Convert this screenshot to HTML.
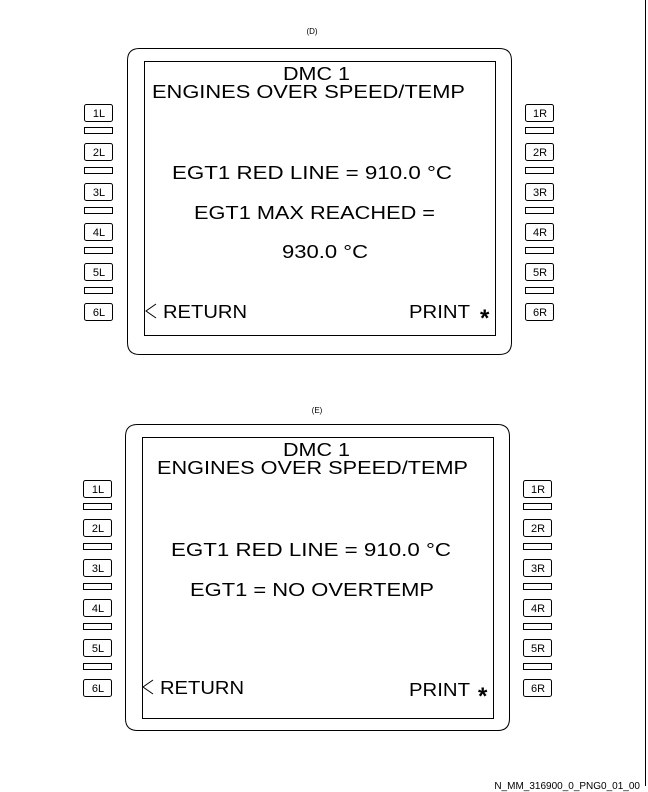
<!DOCTYPE html>
<html><head><style>body{margin:0;background:#fff}svg{display:block}</style></head><body>
<svg width="648" height="792" viewBox="0 0 648 792" xmlns="http://www.w3.org/2000/svg" font-family="Liberation Sans, sans-serif" fill="none" stroke="#000">
<line x1="645.5" y1="0" x2="645.5" y2="786" stroke-width="1"/>
<g>
<path d="M139.5,48.5 H499.5 Q511.5,48.5 511.5,60.5 V342.5 Q511.5,354.5 499.5,354.5 H139.5 Q127.5,354.5 127.5,342.5 V60.5 Q127.5,48.5 139.5,48.5 Z"/>
<rect x="144.5" y="61.5" width="351" height="274"/>
<g fill="#000" stroke="none" font-size="18">
<text x="312" y="34" font-size="8" text-anchor="middle">(D)</text>
<text x="283" y="80" textLength="67" lengthAdjust="spacingAndGlyphs">DMC 1</text>
<text x="152" y="98" textLength="313" lengthAdjust="spacingAndGlyphs">ENGINES OVER SPEED/TEMP</text>
<text x="172" y="179" textLength="280" lengthAdjust="spacingAndGlyphs">EGT1 RED LINE = 910.0 °C</text>
<text x="194" y="219" textLength="241" lengthAdjust="spacingAndGlyphs">EGT1 MAX REACHED =</text>
<text x="282" y="258" textLength="86" lengthAdjust="spacingAndGlyphs">930.0 °C</text>
<text x="163" y="318" textLength="84" lengthAdjust="spacingAndGlyphs">RETURN</text>
<text x="409" y="318" textLength="61" lengthAdjust="spacingAndGlyphs">PRINT</text>
<text x="480" y="326" font-size="24" font-weight="bold">*</text>
</g>
<polyline points="156,304 146,311 156,318" stroke-width="1"/>
</g>
<g>
<path d="M137.5,424.5 H497.5 Q509.5,424.5 509.5,436.5 V718.5 Q509.5,730.5 497.5,730.5 H137.5 Q125.5,730.5 125.5,718.5 V436.5 Q125.5,424.5 137.5,424.5 Z"/>
<rect x="142.5" y="437.5" width="351" height="281"/>
<g fill="#000" stroke="none" font-size="18">
<text x="317" y="413" font-size="8" text-anchor="middle">(E)</text>
<text x="283" y="456" textLength="67" lengthAdjust="spacingAndGlyphs">DMC 1</text>
<text x="157" y="474" textLength="311" lengthAdjust="spacingAndGlyphs">ENGINES OVER SPEED/TEMP</text>
<text x="171" y="556" textLength="280" lengthAdjust="spacingAndGlyphs">EGT1 RED LINE = 910.0 °C</text>
<text x="190" y="596" textLength="244" lengthAdjust="spacingAndGlyphs">EGT1 = NO OVERTEMP</text>
<text x="160" y="694" textLength="84" lengthAdjust="spacingAndGlyphs">RETURN</text>
<text x="409" y="696" textLength="61" lengthAdjust="spacingAndGlyphs">PRINT</text>
<text x="478" y="704" font-size="24" font-weight="bold">*</text>
</g>
<polyline points="153,680 143,687 153,694" stroke-width="1"/>
</g>
<g font-size="11">
<g stroke="#000">
<rect x="84.5" y="104.5" width="28" height="17" rx="2"/><rect x="84.5" y="143.5" width="28" height="17" rx="2"/><rect x="84.5" y="183.5" width="28" height="17" rx="2"/><rect x="84.5" y="223.5" width="28" height="17" rx="2"/><rect x="84.5" y="263.5" width="28" height="17" rx="2"/><rect x="84.5" y="303.5" width="28" height="17" rx="2"/>
<rect x="84.5" y="127.5" width="28" height="6"/><rect x="84.5" y="167.5" width="28" height="6"/><rect x="84.5" y="207.5" width="28" height="6"/><rect x="84.5" y="247.5" width="28" height="6"/><rect x="84.5" y="287.5" width="28" height="6"/>
<rect x="525.5" y="104.5" width="28" height="17" rx="2"/><rect x="525.5" y="143.5" width="28" height="17" rx="2"/><rect x="525.5" y="183.5" width="28" height="17" rx="2"/><rect x="525.5" y="223.5" width="28" height="17" rx="2"/><rect x="525.5" y="263.5" width="28" height="17" rx="2"/><rect x="525.5" y="303.5" width="28" height="17" rx="2"/>
<rect x="525.5" y="127.5" width="28" height="6"/><rect x="525.5" y="167.5" width="28" height="6"/><rect x="525.5" y="207.5" width="28" height="6"/><rect x="525.5" y="247.5" width="28" height="6"/><rect x="525.5" y="287.5" width="28" height="6"/>
<rect x="83.5" y="480.5" width="28" height="17" rx="2"/><rect x="83.5" y="519.5" width="28" height="17" rx="2"/><rect x="83.5" y="559.5" width="28" height="17" rx="2"/><rect x="83.5" y="599.5" width="28" height="17" rx="2"/><rect x="83.5" y="639.5" width="28" height="17" rx="2"/><rect x="83.5" y="679.5" width="28" height="17" rx="2"/>
<rect x="83.5" y="503.5" width="28" height="6"/><rect x="83.5" y="543.5" width="28" height="6"/><rect x="83.5" y="583.5" width="28" height="6"/><rect x="83.5" y="623.5" width="28" height="6"/><rect x="83.5" y="663.5" width="28" height="6"/>
<rect x="523.5" y="480.5" width="28" height="17" rx="2"/><rect x="523.5" y="519.5" width="28" height="17" rx="2"/><rect x="523.5" y="559.5" width="28" height="17" rx="2"/><rect x="523.5" y="599.5" width="28" height="17" rx="2"/><rect x="523.5" y="639.5" width="28" height="17" rx="2"/><rect x="523.5" y="679.5" width="28" height="17" rx="2"/>
<rect x="523.5" y="503.5" width="28" height="6"/><rect x="523.5" y="543.5" width="28" height="6"/><rect x="523.5" y="583.5" width="28" height="6"/><rect x="523.5" y="623.5" width="28" height="6"/><rect x="523.5" y="663.5" width="28" height="6"/>
</g>
<g fill="#000" stroke="none" text-anchor="middle">
<text x="99" y="117">1L</text><text x="99" y="156">2L</text><text x="99" y="196">3L</text><text x="99" y="236">4L</text><text x="99" y="276">5L</text><text x="99" y="316">6L</text>
<text x="540" y="117">1R</text><text x="540" y="156">2R</text><text x="540" y="196">3R</text><text x="540" y="236">4R</text><text x="540" y="276">5R</text><text x="540" y="316">6R</text>
<text x="98" y="493">1L</text><text x="98" y="532">2L</text><text x="98" y="572">3L</text><text x="98" y="612">4L</text><text x="98" y="652">5L</text><text x="98" y="692">6L</text>
<text x="538" y="493">1R</text><text x="538" y="532">2R</text><text x="538" y="572">3R</text><text x="538" y="612">4R</text><text x="538" y="652">5R</text><text x="538" y="692">6R</text>
</g>
</g>
<text x="640" y="789" fill="#000" stroke="none" font-size="10" text-anchor="end">N_MM_316900_0_PNG0_01_00</text>
</svg>
</body></html>
